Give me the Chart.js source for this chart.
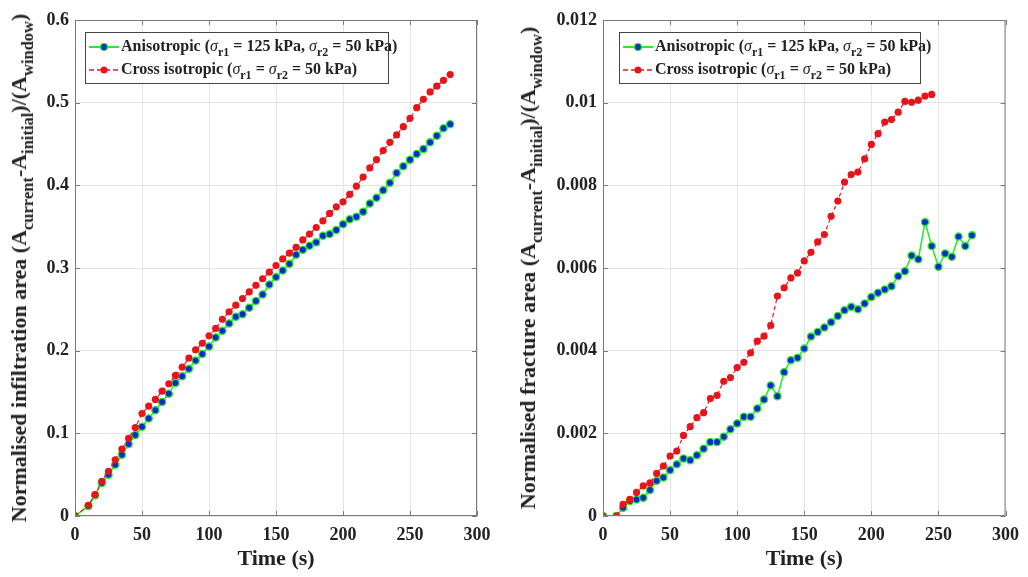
<!DOCTYPE html>
<html>
<head>
<meta charset="utf-8">
<script src="https://cdn.jsdelivr.net/npm/chart.js@4.4.0/dist/chart.umd.min.js"></script>
<style>
  body { margin: 0; background: #fff; }
  #wrap { position: relative; width: 1028px; height: 577px; overflow: hidden; font-family: "Liberation Serif", "Times New Roman", serif; font-weight: bold; color: #222; }
  canvas { position: absolute; top: 0; }
  .ytitle { position: absolute; white-space: nowrap; font-size: 22px; transform: translate(-50%, -50%) rotate(-90deg); }
  .ytitle sub, .legend sub { font-size: 0.75em; vertical-align: -0.45em; line-height: 0; }
  .legend { position: absolute; background: #fff; border: 1px solid #444; font-size: 16px; padding: 3px 0 0 3px; box-sizing: border-box; }
  .legend div { height: 23px; line-height: 20px; white-space: nowrap; }
  .legend svg { vertical-align: -1px; margin-right: 2px; }
  .legend i { font-weight: normal; }
</style>
</head>
<body>
<div id="wrap">
  <canvas id="left_chart" width="514" height="577" style="left:0;width:514px;height:577px"></canvas>
  <canvas id="right_chart" width="514" height="577" style="left:514px;width:514px;height:577px"></canvas>

  <div class="ytitle" style="left:19px;top:268px">Normalised infiltration area (A<sub>current</sub>-A<sub>initial</sub>)/(A<sub>window</sub>)</div>
  <div class="ytitle" style="left:528px;top:268px">Normalised fracture area (A<sub>current</sub>-A<sub>initial</sub>)/(A<sub>window</sub>)</div>

  <div class="legend" style="left:85px;top:32px;width:304px;height:52px">
    <div><svg width="30" height="10"><line x1="0" y1="5" x2="30" y2="5" stroke="#2ee82e" stroke-width="2"/><circle cx="15" cy="5" r="3.5" fill="#0a2bd0" stroke="#2ee82e" stroke-width="1.2"/></svg>Anisotropic (<i>σ</i><sub>r1</sub> = 125 kPa, <i>σ</i><sub>r2</sub> = 50 kPa)</div>
    <div><svg width="30" height="10"><line x1="0" y1="5" x2="30" y2="5" stroke="#e8141c" stroke-width="1.5" stroke-dasharray="5,3"/><circle cx="15" cy="5" r="3.5" fill="#e8141c"/></svg>Cross isotropic (<i>σ</i><sub>r1</sub> = <i>σ</i><sub>r2</sub> = 50 kPa)</div>
  </div>
  <div class="legend" style="left:619px;top:32px;width:302px;height:52px">
    <div><svg width="30" height="10"><line x1="0" y1="5" x2="30" y2="5" stroke="#2ee82e" stroke-width="2"/><circle cx="15" cy="5" r="3.5" fill="#0a2bd0" stroke="#2ee82e" stroke-width="1.2"/></svg>Anisotropic (<i>σ</i><sub>r1</sub> = 125 kPa, <i>σ</i><sub>r2</sub> = 50 kPa)</div>
    <div><svg width="30" height="10"><line x1="0" y1="5" x2="30" y2="5" stroke="#e8141c" stroke-width="1.5" stroke-dasharray="5,3"/><circle cx="15" cy="5" r="3.5" fill="#e8141c"/></svg>Cross isotropic (<i>σ</i><sub>r1</sub> = <i>σ</i><sub>r2</sub> = 50 kPa)</div>
  </div>
</div>

<script>
// time stamps (s)
var time_inf = [0, 10, 15, 20, 25, 30, 35, 40, 45, 50, 55, 60, 65, 70, 75, 80, 85, 90, 95, 100,
  105, 110, 115, 120, 125, 130, 135, 140, 145, 150, 155, 160, 165, 170, 175, 180, 185, 190, 195, 200,
  205, 210, 215, 220, 225, 230, 235, 240, 245, 250, 255, 260, 265, 270, 275, 280];
var time_frac_aniso = [0, 10, 15, 20, 25, 30, 35, 40, 45, 50, 55, 60, 65, 70, 75, 80, 85, 90, 95, 100,
  105, 110, 115, 120, 125, 130, 135, 140, 145, 150, 155, 160, 165, 170, 175, 180, 185, 190, 195, 200,
  205, 210, 215, 220, 225, 230, 235, 240, 245, 250, 255, 260, 265, 270, 275];
var time_frac_cross = [0, 10, 15, 20, 25, 30, 35, 40, 45, 50, 55, 60, 65, 70, 75, 80, 85, 90, 95, 100,
  105, 110, 115, 120, 125, 130, 135, 140, 145, 150, 155, 160, 165, 170, 175, 180, 185, 190, 195, 200,
  205, 210, 215, 220, 225, 230, 235, 240, 245];

// normalised infiltration area
var aniso_inf = [0, 0.012, 0.025, 0.040, 0.050, 0.062, 0.074, 0.087, 0.098, 0.108, 0.118, 0.128, 0.138, 0.148,
  0.161, 0.169, 0.178, 0.188, 0.196, 0.205, 0.216, 0.224, 0.233, 0.241, 0.244, 0.252, 0.260, 0.268, 0.280,
  0.289, 0.297, 0.305, 0.316, 0.322, 0.327, 0.331, 0.339, 0.341, 0.346, 0.353, 0.359, 0.362, 0.368, 0.378,
  0.385, 0.394, 0.403, 0.415, 0.423, 0.431, 0.438, 0.444, 0.452, 0.460, 0.469, 0.474];
var cross_inf = [0, 0.013, 0.026, 0.042, 0.054, 0.068, 0.081, 0.094, 0.107, 0.124, 0.133, 0.141, 0.151, 0.160,
  0.170, 0.180, 0.191, 0.201, 0.209, 0.218, 0.227, 0.238, 0.247, 0.255, 0.263, 0.271, 0.279, 0.287, 0.295,
  0.303, 0.311, 0.318, 0.325, 0.334, 0.341, 0.349, 0.357, 0.366, 0.374, 0.380, 0.389, 0.399, 0.410, 0.421,
  0.431, 0.442, 0.452, 0.461, 0.471, 0.481, 0.494, 0.504, 0.513, 0.520, 0.527, 0.534];

// normalised fracture area
var aniso_frac = [0, 0, 0.0002, 0.00036, 0.0004, 0.00044, 0.00063, 0.00085, 0.00093, 0.00111, 0.00125,
  0.00139, 0.00135, 0.00147, 0.00163, 0.00179, 0.00179, 0.00192, 0.0021, 0.00224, 0.0024, 0.0024, 0.0026,
  0.00282, 0.00316, 0.0029, 0.00348, 0.00377, 0.00383, 0.00405, 0.00434, 0.00445, 0.00456, 0.00469, 0.00484,
  0.00498, 0.00506, 0.005, 0.00514, 0.0053, 0.0054, 0.00548, 0.00556, 0.0058, 0.00592, 0.0063, 0.00621,
  0.00711, 0.00653, 0.00603, 0.00635, 0.00627, 0.00676, 0.00653, 0.00679];
var cross_frac = [0, 0, 0.00028, 0.0004, 0.00057, 0.00073, 0.0008, 0.00103, 0.00121, 0.00145, 0.00157,
  0.00195, 0.00216, 0.00238, 0.0025, 0.00284, 0.00292, 0.00326, 0.00335, 0.00359, 0.00372, 0.00395, 0.00423,
  0.00435, 0.00461, 0.00532, 0.00552, 0.00576, 0.00588, 0.00617, 0.00638, 0.00663, 0.00681, 0.00725, 0.00762,
  0.00808, 0.00826, 0.00832, 0.00864, 0.00899, 0.00925, 0.00953, 0.00959, 0.00977, 0.01003, 0.01001, 0.01006,
  0.01016, 0.0102];

var x_ticks = [0, 50, 100, 150, 200, 250, 300];

function pts(xs, ys) {
  return xs.map(function (x, i) { return { x: x, y: ys[i] }; });
}

// matlab style box with inward ticks
const boxPlugin = {
  id: 'box',
  afterDraw(chart) {
    const ctx = chart.ctx, a = chart.chartArea;
    const xs = chart.scales.x, ys = chart.scales.y;
    ctx.save();
    ctx.strokeStyle = '#7a7a7a';
    ctx.lineWidth = 1;
    ctx.strokeRect(a.left + 0.5, a.top + 0.5, a.right - a.left - 1, a.bottom - a.top - 1);
    ctx.beginPath();
    xs.ticks.forEach(function (t) {
      const p = Math.round(xs.getPixelForValue(t.value)) + 0.5;
      ctx.moveTo(p, a.bottom); ctx.lineTo(p, a.bottom - 5);
      ctx.moveTo(p, a.top); ctx.lineTo(p, a.top + 5);
    });
    ys.ticks.forEach(function (t) {
      const p = Math.round(ys.getPixelForValue(t.value)) + 0.5;
      ctx.moveTo(a.left, p); ctx.lineTo(a.left + 5, p);
      ctx.moveTo(a.right, p); ctx.lineTo(a.right - 5, p);
    });
    ctx.stroke();
    ctx.restore();
  }
};

function makeChart(id, anisoPts, crossPts, yMax, yStep, yWidth, padRight) {
  const tickFont = { family: '"Liberation Serif", "Times New Roman", serif', size: 18, weight: 'bold' };
  return new Chart(document.getElementById(id), {
    type: 'line',
    data: {
      datasets: [{
        label: 'Anisotropic',
        data: anisoPts,
        borderColor: '#2ee82e',
        borderWidth: 1.6,
        pointRadius: 3.6,
        pointBackgroundColor: '#0a2bd0',
        pointBorderColor: '#2ee82e',
        pointBorderWidth: 1.3,
        order: 1
      }, {
        label: 'Cross isotropic',
        data: crossPts,
        borderColor: '#e8141c',
        borderWidth: 1.2,
        borderDash: [4, 3],
        pointRadius: 3.6,
        pointBackgroundColor: '#e8141c',
        pointBorderColor: '#e8141c',
        pointBorderWidth: 0,
        order: 0
      }]
    },
    options: {
      responsive: false,
      animation: false,
      layout: { padding: { top: 20, right: padRight, left: 0, bottom: 0 } },
      plugins: { legend: { display: false }, tooltip: { enabled: false } },
      scales: {
        x: {
          type: 'linear',
          min: 0, max: 300,
          afterBuildTicks: function (s) { s.ticks = x_ticks.map(function (v) { return { value: v }; }); },
          grid: { color: '#e4e4e4', drawTicks: false },
          border: { display: false },
          ticks: { color: '#222', font: tickFont, padding: 9, maxRotation: 0 },
          title: { display: true, text: 'Time (s)', color: '#222', padding: { top: 1 },
                   font: { family: tickFont.family, size: 22, weight: 'bold' } },
          afterFit: function (s) { s.height = 61; }
        },
        y: {
          min: 0, max: yMax,
          grid: { color: '#e4e4e4', drawTicks: false },
          border: { display: false },
          ticks: { stepSize: yStep, color: '#222', font: tickFont, padding: 6,
                   callback: function (v) { return String(+v.toFixed(4)); } },
          afterFit: function (s) { s.width = yWidth; }
        }
      }
    },
    plugins: [boxPlugin]
  });
}

const leftChart = makeChart('left_chart', pts(time_inf, aniso_inf), pts(time_inf, cross_inf), 0.6, 0.1, 75, 37);
const rightChart = makeChart('right_chart', pts(time_frac_aniso, aniso_frac), pts(time_frac_cross, cross_frac), 0.012, 0.002, 89, 21);
</script>
</body>
</html>
